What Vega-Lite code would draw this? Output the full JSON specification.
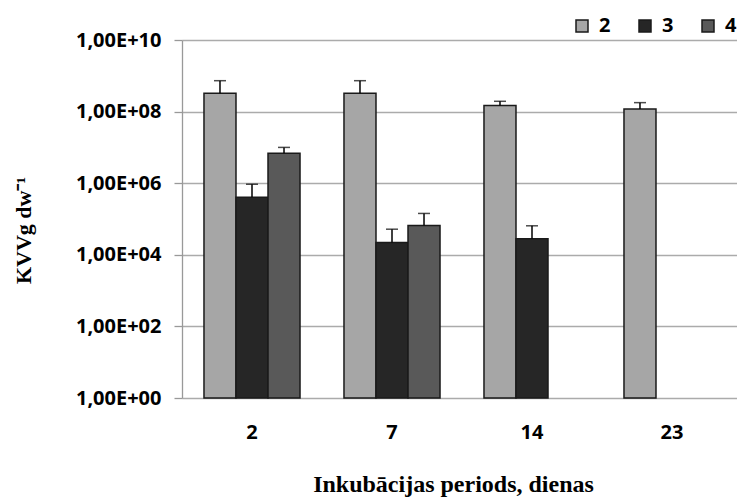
{
  "$schema": "https://vega.github.io/schema/vega-lite/v6.json",
  "autosize": "none",
  "padding": {"left": 182, "top": 40, "right": 0, "bottom": 100},
  "width": 560,
  "height": 358,
  "background": "white",
  "data": {
    "values": [
      {"day": "2", "series": "2", "value": 3.24e8, "errHigh": 7.3e8},
      {"day": "2", "series": "3", "value": 4.06e5, "errHigh": 9.35e5},
      {"day": "2", "series": "4", "value": 6.85e6, "errHigh": 1.0e7},
      {"day": "7", "series": "2", "value": 3.24e8, "errHigh": 7.3e8},
      {"day": "7", "series": "3", "value": 2.21e4, "errHigh": 5.19e4},
      {"day": "7", "series": "4", "value": 6.59e4, "errHigh": 1.43e5},
      {"day": "14", "series": "2", "value": 1.47e8, "errHigh": 1.94e8},
      {"day": "14", "series": "3", "value": 2.8e4, "errHigh": 6.46e4},
      {"day": "23", "series": "2", "value": 1.19e8, "errHigh": 1.78e8}
    ]
  },
  "encoding": {
    "x": {
      "field": "day",
      "type": "nominal",
      "sort": ["2", "7", "14", "23"],
      "scale": {"paddingInner": 0.314, "paddingOuter": 0.157},
      "axis": {
        "title": "Inkubācijas periods, dienas",
        "titleFont": "Liberation Serif",
        "titleFontSize": 24,
        "titleFontWeight": "bold",
        "titleColor": "black",
        "titlePadding": 30,
        "titleX": 271,
        "titleAlign": "center",
        "labelAngle": 0,
        "labelFont": "Open Sans",
        "labelFontSize": 20,
        "labelFontWeight": "bold",
        "labelColor": "black",
        "labelPadding": 24,
        "ticks": false,
        "domain": false
      }
    },
    "xOffset": {
      "field": "series",
      "type": "nominal",
      "scale": {"domain": ["2", "3", "4"], "paddingInner": 0, "paddingOuter": 0}
    }
  },
  "layer": [
    {
      "mark": {"type": "bar", "stroke": "#1a1a1a", "strokeWidth": 1.5},
      "encoding": {
        "y": {
          "field": "value",
          "type": "quantitative",
          "scale": {"type": "log", "domain": [1, 1e10], "nice": false},
          "axis": {
            "values": [1, 100, 10000, 1000000, 100000000, 10000000000],
            "labelExpr": "'1,00E+' + (round(log(datum.value)/LN10) < 10 ? '0' : '') + round(log(datum.value)/LN10)",
            "labelFont": "Open Sans",
            "labelFontSize": 20,
            "labelFontWeight": "bold",
            "labelColor": "black",
            "labelPadding": 13,
            "tickSize": 8,
            "tickColor": "#999999",
            "tickWidth": 1.3,
            "domainColor": "#999999",
            "domainWidth": 1.3,
            "grid": true,
            "gridColor": "#ababab",
            "gridWidth": 1.5,
            "title": "KVVg dw⁻¹",
            "titleFont": "Liberation Serif",
            "titleFontSize": 22,
            "titleFontWeight": "bold",
            "titleColor": "black",
            "titleAngle": -90,
            "titleX": -159,
            "titleY": 190,
            "titleAlign": "center",
            "titleBaseline": "middle"
          }
        },
        "y2": {"datum": 1},
        "color": {
          "field": "series",
          "type": "nominal",
          "scale": {"domain": ["2", "3", "4"], "range": ["#a6a6a6", "#262626", "#595959"]},
          "legend": {
            "title": null,
            "orient": "none",
            "direction": "horizontal",
            "legendX": 390,
            "legendY": -24,
            "padding": 0,
            "symbolType": "square",
            "symbolSize": 144,
            "symbolStrokeColor": "#1a1a1a",
            "symbolStrokeWidth": 1.5,
            "symbolOpacity": 1,
            "labelFont": "Open Sans",
            "labelFontSize": 20,
            "labelFontWeight": "bold",
            "labelColor": "black",
            "labelOffset": 7,
            "columnPadding": 24
          }
        }
      }
    },
    {
      "mark": {"type": "rule", "color": "black", "strokeWidth": 1.5},
      "encoding": {
        "y": {"field": "value", "type": "quantitative"},
        "y2": {"field": "errHigh"}
      }
    },
    {
      "mark": {"type": "tick", "color": "black", "thickness": 1.5, "size": 12, "orient": "horizontal"},
      "encoding": {
        "y": {"field": "errHigh", "type": "quantitative"}
      }
    }
  ],
  "config": {
    "view": {"stroke": null}
  }
}
